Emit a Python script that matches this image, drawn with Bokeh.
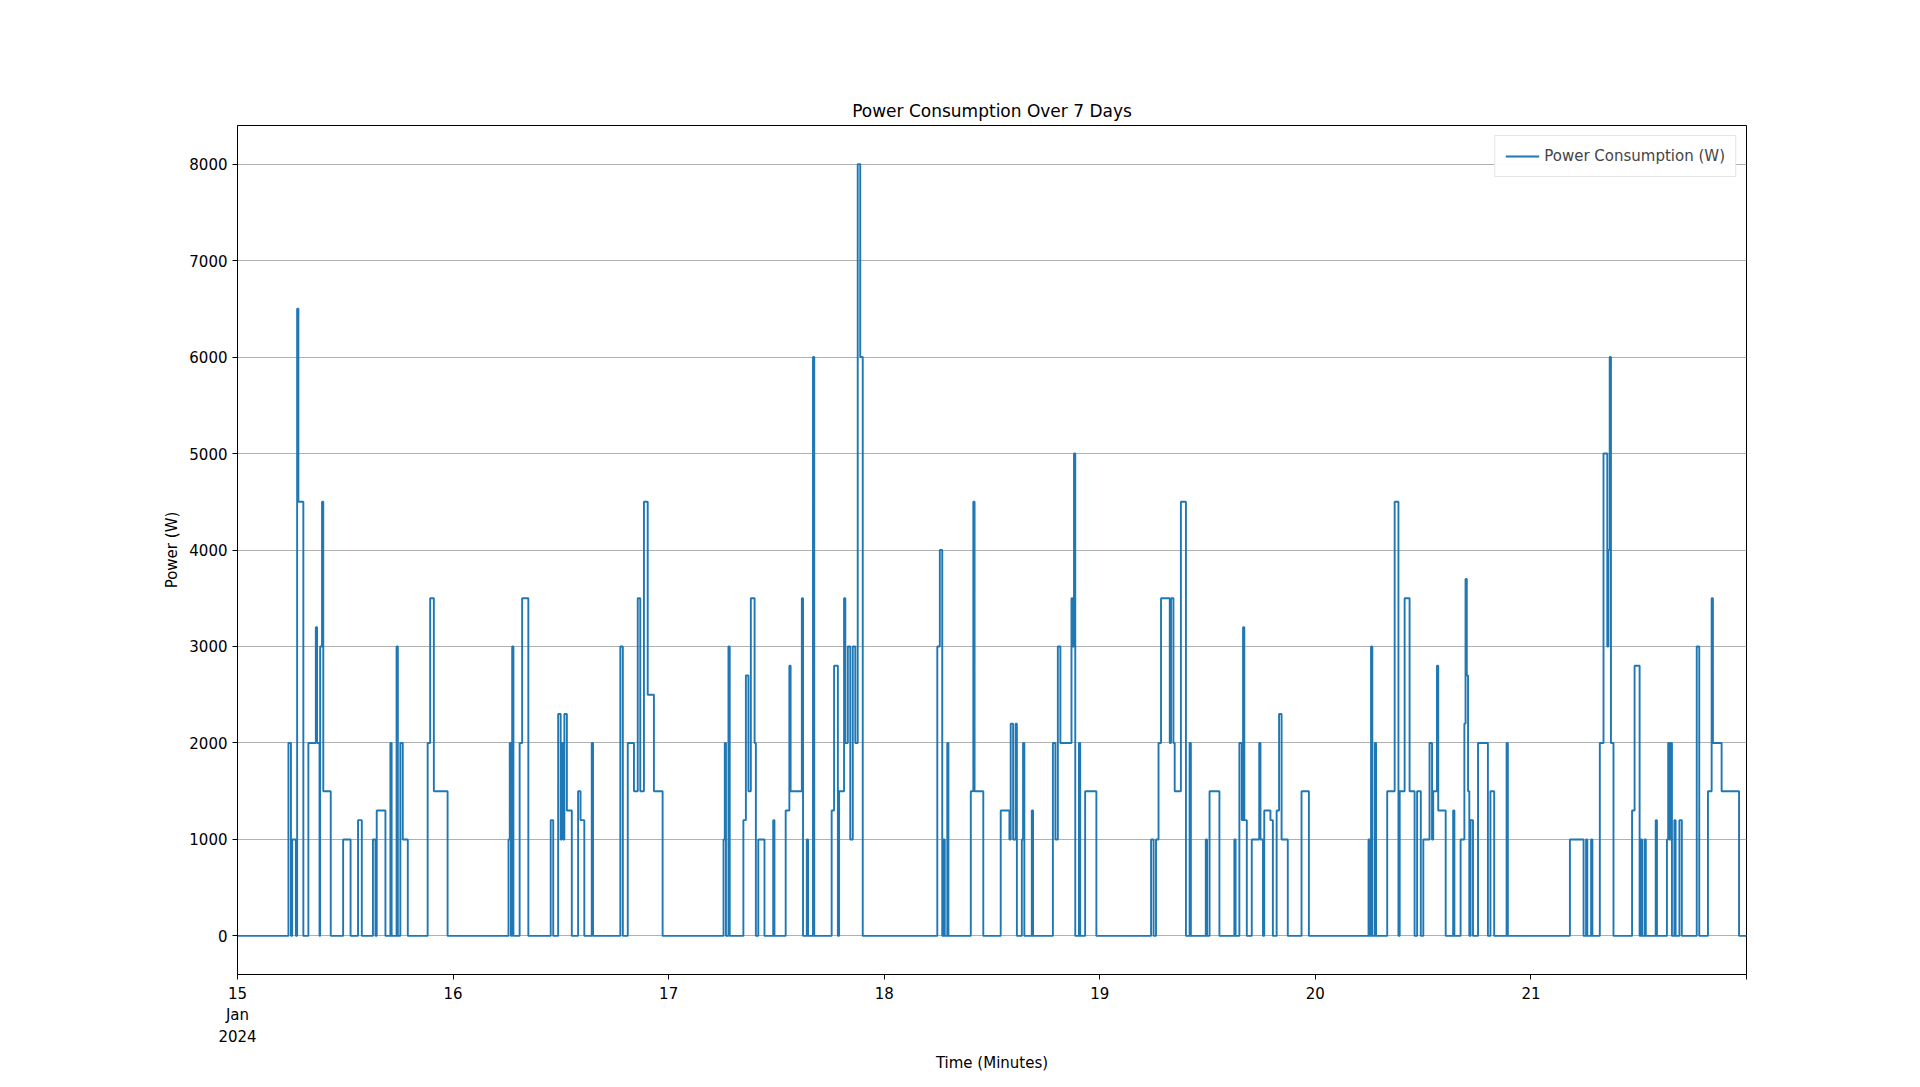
from datetime import datetime, timedelta
from bokeh.plotting import figure
from bokeh.models import ColumnDataSource, FixedTicker, Range1d, Legend, LegendItem
from bokeh.embed import file_html
from bokeh.resources import INLINE

start = datetime(2024, 1, 15)
# change points: hours since start, power (W)
hours = [0, 5.67, 5.95, 6.09, 6.50, 6.64, 6.78, 7.33, 7.89, 8.72, 8.86, 9.13, 9.2, 9.41, 9.55, 10.38, 11.76, 12.59, 13.42, 13.84,
         15.08, 15.36, 15.50, 16.47, 17.02, 17.16, 17.71, 17.85, 18.13, 18.40, 18.96, 21.17, 21.45, 21.86, 23.39,
         30.17, 30.31, 30.44, 30.58, 30.72, 31.41, 31.69, 32.38, 34.87, 35.15, 35.70, 35.98, 36.12, 36.26, 36.39, 36.67, 37.22,
         37.92, 38.19, 38.61, 39.44, 39.58, 42.62, 42.90, 43.45, 44.14, 44.56, 44.84, 45.25, 45.67, 46.36, 47.33,
         54.11, 54.25, 54.38, 54.66, 54.80, 56.32, 56.60, 56.88, 57.15, 57.57, 57.71, 57.98, 58.67, 59.64, 59.78, 61.03,
         61.44, 61.58, 62.83, 62.96, 63.38, 63.52, 64.07, 64.21, 66.15, 66.42, 66.84, 66.98, 67.53, 67.67, 67.95, 68.22,
         68.50, 68.78, 69.05, 69.33, 69.61,
         77.91, 78.19, 78.46, 78.60, 78.74, 79.02, 79.15, 81.64, 81.92, 82.06, 83.03, 84.97, 85.94, 86.08, 86.35, 86.63,
         86.77, 87.32, 87.46, 87.60, 88.43, 88.57, 90.78, 91.06, 91.33, 91.61, 92.85, 92.99, 93.13, 93.27, 93.68, 93.82,
         94.37, 95.62,
         101.71, 101.99, 102.26, 102.54, 102.82, 103.79, 103.93, 104.20, 104.34, 105.03, 105.59, 106.00, 106.14, 107.80,
         107.94, 108.22, 109.32, 110.98, 111.12, 111.54, 111.81, 111.95, 112.09, 112.37, 112.92, 113.75, 113.89, 114.17,
         114.31, 115.00, 115.27, 115.69, 115.96, 116.24, 116.93, 118.46, 119.28,
         125.92, 126.06, 126.20, 126.34, 126.62, 126.76, 128.00, 128.83, 129.25, 129.39, 129.94, 130.49, 131.05, 131.33,
         131.74, 132.02, 132.71, 132.99, 133.12, 133.54, 133.68, 134.51, 135.34, 135.48, 136.17, 136.59, 136.72, 136.86,
         137.00, 137.14, 137.28, 137.55, 138.11, 139.21, 139.49, 139.91, 141.29, 141.43,
         148.34, 149.86, 150.14, 150.28, 150.70, 150.84, 151.67, 152.08, 152.50, 152.63, 152.77, 152.91, 153.19, 155.26,
         155.54, 156.10, 156.23, 156.37, 156.65, 156.79, 157.89, 158.03, 159.14, 159.28, 159.42, 159.56, 159.70, 159.97,
         160.11, 160.53, 160.80, 162.46, 162.74, 163.71, 164.12, 164.26, 165.23, 167.17, 168]
power = [0, 2000, 0, 1000, 0, 6500, 4500, 0, 2000, 3200, 2000, 0, 3000, 4500, 1500, 0, 1000, 0, 1200, 0,
         1000, 0, 1300, 0, 2000, 0, 3000, 0, 2000, 1000, 0, 2000, 3500, 1500, 0,
         1000, 2000, 0, 3000, 0, 2000, 3500, 0, 1200, 0, 2300, 1000, 2000, 1000, 2300, 1300, 0,
         1500, 1200, 0, 2000, 0, 3000, 0, 2000, 1500, 3500, 1500, 4500, 2500, 1500, 0,
         1000, 2000, 0, 3000, 0, 1200, 2700, 1500, 3500, 2000, 0, 1000, 0, 1200, 0, 1300,
         2800, 1500, 3500, 0, 1000, 0, 6000, 0, 1300, 2800, 0, 1500, 3500, 2000, 3000, 1000,
         3000, 2000, 8000, 6000, 0,
         3000, 4000, 0, 1000, 0, 2000, 0, 1500, 4500, 1500, 0, 1300, 1000, 2200, 1000, 2200,
         0, 1000, 2000, 0, 1300, 0, 2000, 1000, 3000, 2000, 3500, 3000, 5000, 0, 2000, 0,
         1500, 0,
         1000, 0, 1000, 2000, 3500, 2000, 3500, 2000, 1500, 4500, 0, 2000, 0, 1000,
         0, 1500, 0, 1000, 0, 2000, 1200, 3200, 1200, 0, 1000, 2000, 1000, 0,
         1300, 1200, 0, 1300, 2300, 1000, 0, 1500, 0,
         1000, 0, 3000, 0, 2000, 0, 1500, 4500, 0, 1500, 3500, 1500, 0, 1500,
         0, 1000, 2000, 1000, 1500, 2800, 1300, 0, 1300, 0, 1000, 2200, 3700, 2700,
         1500, 0, 1200, 0, 2000, 0, 1500, 0, 2000, 0,
         1000, 0, 1000, 0, 1000, 0, 2000, 5000, 3000, 4000, 6000, 2000, 0, 1300,
         2800, 0, 1000, 0, 1000, 0, 1200, 0, 1000, 2000, 1000, 2000, 0, 1200,
         0, 1200, 0, 3000, 0, 1500, 3500, 2000, 1500, 0, 0]

times = [start + timedelta(hours=h) for h in hours]
day_ticks = [start + timedelta(days=d) for d in range(8)]
day_labels = ["15\nJan\n2024", "16", "17", "18", "19", "20", "21", ""]

src = ColumnDataSource(dict(t=times, p=power))

p = figure(x_axis_type="datetime", output_backend="svg", toolbar_location=None,
           frame_width=1509, frame_height=849, min_border_left=237, min_border_right=150,
           min_border_top=125, min_border_bottom=85,
           title="Power Consumption Over 7 Days",
           x_range=Range1d(start, start + timedelta(days=7)), y_range=Range1d(-400, 8400))
p.title.align = "center"
p.title.text_font = "DejaVu Sans"
p.title.text_font_size = "17px"
p.title.text_font_style = "normal"
p.title.text_color = "black"
r = p.step("t", "p", source=src, mode="after", line_color="#1f77b4", line_width=1.9)

ms = [(d - datetime(1970, 1, 1)).total_seconds() * 1000 for d in day_ticks]
p.xaxis.ticker = FixedTicker(ticks=ms)
p.xaxis.major_label_overrides = {m: l for m, l in zip(ms, day_labels)}
p.yaxis.ticker = FixedTicker(ticks=list(range(0, 8001, 1000)))
p.xaxis.axis_label = "Time (Minutes)"
p.yaxis.axis_label = "Power (W)"
for ax in (p.xaxis[0], p.yaxis[0]):
    ax.axis_label_text_font = "DejaVu Sans"
    ax.axis_label_text_font_style = "normal"
    ax.axis_label_text_font_size = "15px"
    ax.axis_label_text_color = "black"
    ax.major_label_text_font = "DejaVu Sans"
    ax.major_label_text_font_size = "15px"
    ax.major_label_text_color = "black"
    ax.minor_tick_line_color = None
    ax.major_tick_out = 5
    ax.major_tick_in = 0
    ax.axis_line_color = "black"
p.xgrid.grid_line_color = None
p.ygrid.grid_line_color = "#b0b0b0"
p.outline_line_color = "black"
p.outline_line_alpha = 1

legend = Legend(items=[LegendItem(label="Power Consumption (W)", renderers=[r])], location="top_right",
                label_text_font="DejaVu Sans", label_text_font_size="15px",
                border_line_color="#cccccc", glyph_width=34)
p.add_layout(legend)

open("out.html", "w").write(file_html(p, INLINE))
